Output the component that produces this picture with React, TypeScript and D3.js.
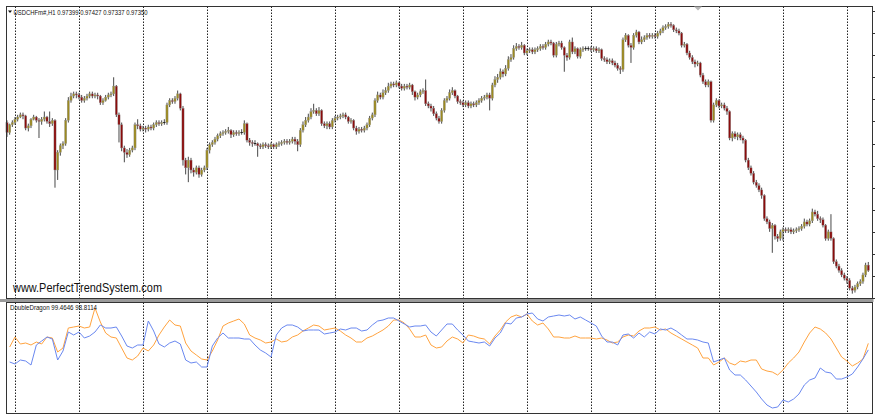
import * as d3 from "d3";

// USDCHFm#,H1 candles, prices in pips above 0.9700
const BASE = 0.97;
const PIP = 0.0001;
const SYMBOL = "USDCHFm#,H1";
const FIRST_HOUR = 21; // hour of the first bar, day separators at 00:00

const opens = [
  169, 160, 167,
  169, 172, 174, 176, 175, 164, 166, 172, 174, 171, 170, 172, 174, 170, 168, 171, 126, 142, 148, 150, 171, 189, 193, 195,
  194, 192, 189, 191, 193, 195, 193, 194, 193, 187, 189, 192, 194, 195, 202, 176, 167, 146, 142, 140, 144, 146, 167, 166,
  163, 164, 163, 165, 164, 167, 169, 168, 169, 169, 185, 189, 188, 191, 195, 182, 135, 128, 135, 126, 124, 128, 122, 126,
  128, 144, 149, 151, 154, 157, 159, 160, 161, 162, 158, 160, 159, 160, 160, 168, 153, 151, 150, 150, 148, 147, 149, 148,
  147, 149, 147, 149, 150, 151, 152, 151, 152, 154, 152, 149, 162, 167, 171, 174, 179, 180, 177, 180, 168, 166, 168, 165,
  171, 173, 174, 175, 176, 174, 170, 171, 164, 161, 163, 162, 164, 167, 173, 176, 189, 194, 192, 196, 198, 202, 204, 203,
  205, 202, 200, 202, 201, 203, 197, 192, 194, 197, 198, 186, 184, 182, 177, 173, 170, 180, 189, 191, 196, 198, 193, 188,
  187, 185, 187, 184, 186, 185, 187, 189, 191, 192, 194, 191, 203, 208, 210, 215, 213, 218, 226, 228, 236, 238, 237, 239,
  232, 234, 235, 233, 235, 236, 238, 237, 240, 242, 241, 230, 240, 241, 237, 230, 228, 242, 233, 236, 229, 235, 236, 236,
  236, 235, 236, 234, 235, 227, 226, 224, 225, 223, 221, 218, 217, 244, 248, 239, 237, 248, 251, 242, 244, 246, 248, 247,
  248, 247, 250, 252, 255, 256, 258, 257, 253, 252, 250, 239, 240, 232, 228, 224, 222, 223, 212, 206, 203, 206, 171, 185,
  189, 184, 185, 182, 179, 155, 159, 156, 158, 155, 153, 135, 128, 123, 115, 112, 108, 103, 82, 79, 73, 76, 66, 64,
  70, 72, 71, 72, 70, 71, 72, 73, 75, 79, 77, 80, 88, 86, 82, 81, 76, 64, 70, 64, 43, 39, 35, 31,
  28, 26, 19, 17, 20, 23, 25, 31, 39.9,
];

const highs = [
  171, 168, 171,
  174, 176, 178, 178, 176, 168, 173, 176, 175, 173, 174, 179, 175, 179, 173, 172, 144, 150, 152, 173, 192, 196, 197, 197,
  196, 194, 193, 195, 197, 197, 196, 196, 194, 191, 194, 196, 197, 210, 203, 178, 169, 148, 145, 146, 148, 169, 172, 168,
  166, 166, 167, 167, 169, 171, 171, 171, 172, 187, 191, 191, 193, 198, 196, 184, 137, 138, 137, 128, 130, 130, 128, 130,
  146, 151, 153, 156, 159, 161, 162, 163, 165, 163, 162, 162, 162, 163, 171, 169, 155, 153, 153, 151, 150, 151, 151, 150,
  151, 150, 151, 152, 153, 154, 154, 154, 156, 156, 154, 164, 170, 174, 177, 182, 186, 182, 183, 181, 170, 170, 170, 173,
  175, 176, 177, 178, 178, 175, 173, 172, 166, 165, 165, 166, 169, 175, 178, 191, 197, 196, 199, 201, 205, 206, 206, 207,
  206, 204, 204, 204, 205, 204, 198, 196, 199, 200, 208, 188, 186, 184, 179, 175, 182, 191, 193, 199, 201, 199, 194, 190,
  189, 189, 189, 188, 188, 189, 191, 193, 194, 196, 196, 205, 211, 213, 218, 217, 221, 229, 231, 239, 241, 240, 242, 240,
  236, 237, 237, 237, 238, 240, 240, 242, 244, 244, 242, 242, 243, 243, 238, 232, 244, 246, 238, 237, 237, 238, 238, 238,
  238, 238, 238, 237, 236, 229, 228, 227, 227, 225, 223, 220, 246, 250, 249, 241, 250, 253, 252, 247, 248, 250, 250, 250,
  250, 252, 254, 257, 258, 260, 260, 258, 255, 254, 251, 242, 241, 234, 230, 226, 225, 224, 214, 208, 208, 207, 187, 191,
  190, 187, 187, 184, 180, 161, 161, 160, 160, 157, 154, 137, 130, 125, 117, 114, 110, 104, 84, 81, 78, 77, 68, 72,
  74, 74, 74, 74, 73, 74, 75, 77, 82, 81, 82, 91, 90, 89, 84, 83, 77, 72, 86, 65, 45, 41, 37, 33,
  30, 28, 21, 22, 25, 27, 33, 42, 42.7,
];

const lows = [
  156, 158, 165,
  167, 170, 173, 172, 162, 161, 164, 171, 169, 155, 167, 170, 168, 165, 166, 110, 117, 139, 145, 148, 169, 187, 191, 191,
  190, 187, 187, 189, 191, 191, 191, 190, 185, 185, 188, 190, 192, 193, 174, 151, 143, 133, 137, 138, 142, 144, 163, 161,
  161, 160, 161, 162, 162, 165, 166, 166, 167, 167, 183, 186, 186, 189, 180, 130, 122, 115, 123, 120, 122, 119, 120, 124,
  126, 141, 147, 149, 152, 155, 157, 158, 159, 155, 156, 157, 157, 158, 158, 151, 148, 147, 148, 138, 145, 145, 146, 145,
  145, 145, 145, 147, 148, 149, 149, 149, 150, 149, 143, 147, 160, 165, 169, 172, 177, 175, 175, 166, 164, 163, 163, 163,
  169, 171, 172, 173, 172, 168, 168, 162, 158, 159, 160, 160, 162, 165, 171, 174, 187, 190, 190, 194, 196, 200, 201, 201,
  200, 198, 198, 199, 199, 194, 189, 190, 192, 195, 184, 182, 179, 175, 171, 168, 168, 178, 187, 189, 194, 191, 186, 185,
  183, 183, 182, 182, 183, 183, 185, 187, 189, 190, 180, 189, 201, 205, 208, 210, 211, 216, 224, 226, 234, 235, 235, 230,
  230, 232, 231, 231, 233, 234, 235, 235, 238, 239, 228, 228, 238, 235, 215, 225, 226, 231, 231, 227, 227, 233, 234, 234,
  233, 233, 232, 232, 225, 224, 222, 222, 221, 219, 216, 213, 215, 242, 237, 223, 235, 246, 240, 240, 242, 244, 245, 245,
  245, 245, 248, 250, 253, 254, 255, 251, 250, 248, 237, 237, 230, 226, 222, 219, 220, 210, 204, 201, 201, 169, 169, 183,
  182, 182, 180, 176, 153, 152, 154, 153, 153, 150, 133, 126, 121, 113, 110, 106, 100, 80, 77, 70, 51, 63, 61, 62,
  62, 69, 69, 68, 68, 69, 70, 71, 73, 75, 75, 78, 84, 80, 78, 74, 62, 62, 62, 41, 37, 33, 29, 26,
  23, 17, 14, 15, 18, 21, 23, 29, 33.7,
];

const closes = [
  160, 167, 169,
  172, 174, 176, 175, 164, 166, 172, 174, 171, 170, 172, 174, 170, 168, 171, 126, 142, 148, 150, 171, 189, 193, 195, 194,
  192, 189, 191, 193, 195, 193, 194, 193, 187, 189, 192, 194, 195, 202, 176, 167, 146, 142, 140, 144, 146, 167, 166, 163,
  164, 163, 165, 164, 167, 169, 168, 169, 169, 185, 189, 188, 191, 195, 182, 135, 128, 135, 126, 124, 128, 122, 126, 128,
  144, 149, 151, 154, 157, 159, 160, 161, 162, 158, 160, 159, 160, 160, 168, 153, 151, 150, 150, 148, 147, 149, 148, 147,
  149, 147, 149, 150, 151, 152, 151, 152, 154, 152, 149, 162, 167, 171, 174, 179, 180, 177, 180, 168, 166, 168, 165, 171,
  173, 174, 175, 176, 174, 170, 171, 164, 161, 163, 162, 164, 167, 173, 176, 189, 194, 192, 196, 198, 202, 204, 203, 205,
  202, 200, 202, 201, 203, 197, 192, 194, 197, 198, 186, 184, 182, 177, 173, 170, 180, 189, 191, 196, 198, 193, 188, 187,
  185, 187, 184, 186, 185, 187, 189, 191, 192, 194, 191, 203, 208, 210, 215, 213, 218, 226, 228, 236, 238, 237, 239, 232,
  234, 235, 233, 235, 236, 238, 237, 240, 242, 241, 230, 240, 241, 237, 230, 228, 242, 233, 236, 229, 235, 236, 236, 236,
  235, 236, 234, 235, 227, 226, 224, 225, 223, 221, 218, 217, 244, 248, 239, 237, 248, 251, 242, 244, 246, 248, 247, 248,
  247, 250, 252, 255, 256, 258, 257, 253, 252, 250, 239, 240, 232, 228, 224, 222, 223, 212, 206, 203, 206, 171, 185, 189,
  184, 185, 182, 179, 155, 159, 156, 158, 155, 153, 135, 128, 123, 115, 112, 108, 103, 82, 79, 73, 76, 66, 64, 70,
  72, 71, 72, 70, 71, 72, 73, 75, 79, 77, 80, 88, 86, 82, 81, 76, 64, 70, 64, 43, 39, 35, 31, 28,
  26, 19, 17, 20, 23, 25, 31, 39.9, 35.0,
];

// DoubleDragon buffers, read on every second bar (bars 1, 3, 5 ... 323)
const ddOrange = [
  99.1, 100.1, 99.4, 99.5, 99.3, 99.6, 99.4, 100.1, 100.0, 98.6,
  99.0, 101.0, 101.1, 101.2, 101.0, 101.1, 103.0, 101.6, 100.5, 100.1,
  100.0, 99.0, 98.0, 97.8, 98.2, 99.0, 98.7, 99.3, 100.3, 101.1,
  101.8, 101.3, 101.2, 99.5, 98.7, 98.3, 97.9, 97.8, 98.7, 99.8,
  101.2, 101.5, 101.7, 101.9, 101.4, 100.3, 100.0, 99.8, 99.5, 99.6,
  99.9, 99.6, 99.7, 100.1, 100.3, 100.7, 101.0, 101.3, 101.2, 100.8,
  100.9, 101.0, 100.7, 100.3, 100.0, 99.6, 99.6, 100.0, 100.2, 100.5,
  100.8, 101.2, 101.8, 101.8, 101.5, 100.9, 100.1, 100.1, 100.3, 99.3,
  99.0, 99.1, 99.7, 100.1, 99.9, 99.5, 100.3, 100.2, 100.0, 99.9,
  99.4, 100.2, 100.8, 101.6, 102.1, 102.3, 102.1, 102.4, 101.7, 101.3,
  101.5, 100.9, 100.1, 100.1, 100.0, 100.0, 100.2, 100.0, 100.0, 100.0,
  99.9, 100.0, 99.8, 99.5, 99.6, 100.1, 100.3, 100.2, 100.7, 101.0,
  101.0, 101.1, 100.8, 100.9, 100.5, 100.2, 99.9, 99.6, 99.3, 99.0,
  98.0, 98.0, 97.3, 97.6, 98.0, 97.5, 97.3, 97.7, 97.6, 97.8,
  97.8, 96.9, 96.7, 96.6, 96.3, 96.8, 97.5, 98.0, 98.6, 99.6,
  100.5, 101.1, 100.9, 100.5, 99.9, 99.0, 98.1, 97.7, 97.2, 97.5,
  97.9, 99.4646,
];

const ddBlue = [
  97.6, 97.4, 97.8, 97.7, 97.3, 99.3, 99.7, 100.1, 99.9, 97.8,
  98.7, 100.6, 100.3, 100.6, 100.0, 100.2, 100.6, 101.3, 101.0, 101.0,
  101.1, 100.2, 99.2, 99.0, 99.3, 99.3, 101.7, 100.7, 99.4, 99.1,
  99.5, 99.7, 99.4, 97.8, 97.5, 97.6, 97.1, 97.1, 99.2, 100.0,
  100.5, 100.0, 100.0, 100.0, 99.9, 99.9, 99.3, 98.8, 98.5, 98.1,
  100.3, 101.0, 101.3, 101.3, 101.1, 100.7, 100.8, 100.8, 100.8, 100.4,
  100.5, 100.6, 100.9, 100.8, 101.0, 101.0, 100.7, 100.8, 101.3, 101.7,
  101.8, 102.0, 102.0, 101.7, 101.4, 101.1, 101.2, 101.2, 101.3, 100.6,
  100.2, 100.8, 101.4, 101.4, 100.8, 100.3, 99.7, 99.6, 99.5, 99.6,
  99.2, 100.0, 100.5, 101.5, 101.4, 102.0, 102.1, 102.4, 102.5, 101.9,
  101.7, 102.1, 102.2, 102.3, 102.2, 102.3, 101.9, 102.1, 101.8, 101.5,
  101.2, 100.2, 99.6, 99.6, 99.3, 100.3, 100.4, 100.0, 100.5, 100.1,
  100.6, 100.4, 100.9, 100.8, 101.0, 100.7, 100.3, 99.9, 99.9, 99.8,
  99.6, 99.5, 97.6, 97.8, 98.0, 96.8, 96.3, 96.3, 95.8, 95.2,
  94.6, 93.9, 93.3, 93.0, 93.1, 93.8, 93.6, 93.9, 94.4, 95.3,
  95.8, 96.0, 97.0, 96.6, 96.5, 95.9, 95.9, 96.1, 96.4, 97.1,
  97.9, 98.8114,
];

const priceTicks = d3.range(10, 271, 20);
const watermark = "www.PerfectTrendSystem.com";

const BULL = "#9c8a20";
const BEAR = "#8b0c0c";

const fmtPrice = (p: number) => (BASE + p * PIP).toFixed(5);

export default function App() {
  const W = 875;
  const H = 415;
  const L = 6.5, R = 872.5;
  const mainTop = 6.5, mainBottom = 298.5;
  const subTop = 302.5, subBottom = 413.5;

  const x = d3.scaleLinear().domain([0, closes.length - 1]).range([7, 868.3]);
  const y = d3.scaleLinear().domain([30, 270]).range([276, 11.04]);
  const yi = d3.scaleLinear().domain([93, 103]).range([408, 308]);

  const bars = closes.map((c, i) => ({
    i,
    o: opens[i],
    h: Math.max(highs[i], opens[i], c),
    l: Math.min(lows[i], opens[i], c),
    c,
  }));

  const last = bars[bars.length - 1];
  const symbolTitle = `${SYMBOL}  ${[last.o, last.h, last.l, last.c].map(fmtPrice).join(" ")}`;
  const ddTitle = `DoubleDragon ${ddOrange[ddOrange.length - 1].toFixed(4)} ${ddBlue[ddBlue.length - 1].toFixed(4)}`;

  const dayStarts = bars.filter((b) => (FIRST_HOUR + b.i) % 24 === 0).map((b) => b.i);

  const line = d3
    .line<number>()
    .x((_, k) => x(2 * k + 1))
    .y((v) => yi(v));

  return (
    <svg
      width={W}
      height={H}
      style={{ position: "absolute", left: 0, top: 0, background: "#fff" }}
      fontFamily="'Liberation Sans', Arial, sans-serif"
    >
      <rect width={W} height={H} fill="#fff" />

      {/* period separators */}
      {dayStarts.map((i) => {
        const sx = Math.round(x(i)) + 0.5;
        return (
          <g key={i} stroke="#222" strokeWidth={1} strokeDasharray="1.5,1.5">
            <line x1={sx} x2={sx} y1={mainTop} y2={mainBottom} />
            <line x1={sx} x2={sx} y1={subTop} y2={subBottom} />
          </g>
        );
      })}

      {/* candles */}
      <g>
        {bars.map((b) => {
          const cx = x(b.i);
          const top = y(Math.max(b.o, b.c));
          const bot = y(Math.min(b.o, b.c));
          const up = b.c >= b.o;
          return (
            <g key={b.i}>
              <line x1={cx} x2={cx} y1={y(b.h)} y2={y(b.l)} stroke="#333" strokeWidth={0.9} />
              {bot - top < 1 ? (
                <line x1={cx - 1.2} x2={cx + 1.2} y1={top} y2={top} stroke="#222" strokeWidth={1} />
              ) : (
                <rect
                  x={cx - 1.1}
                  y={top}
                  width={2.2}
                  height={bot - top}
                  fill={up ? BULL : BEAR}
                  stroke="#999"
                  strokeWidth={0.4}
                />
              )}
            </g>
          );
        })}
      </g>

      {/* DoubleDragon */}
      <path d={line(ddOrange) ?? ""} fill="none" stroke="#ffa33f" strokeWidth={1} />
      <path d={line(ddBlue) ?? ""} fill="none" stroke="#6a88f0" strokeWidth={1} />

      {/* frames */}
      <rect x={L} y={mainTop} width={R - L} height={mainBottom - mainTop} fill="none" stroke="#333" />
      <rect x={0} y={299} width={R + 1} height={3} fill="#9a9a9a" />
      <rect x={L} y={subTop} width={R - L} height={subBottom - subTop} fill="none" stroke="#333" />

      {/* price axis ticks */}
      {priceTicks.map((p) => (
        <line key={p} x1={R} x2={R + 3} y1={Math.round(y(p)) + 0.5} y2={Math.round(y(p)) + 0.5} stroke="#333" />
      ))}

      {/* chart shift marker */}
      <path d="M694,6.5 L702,6.5 L698,10.5 Z" fill="#b8b8b8" />

      {/* labels */}
      <path d="M8,10.5 L12,10.5 L10,13 Z" fill="#111" />
      <text x={13.5} y={14.5} fontSize={7} fill="#111" textLength={134} lengthAdjust="spacingAndGlyphs">
        {symbolTitle}
      </text>
      <text x={13} y={292} fontSize={12.5} fill="#111" textLength={149} lengthAdjust="spacingAndGlyphs">
        {watermark}
      </text>
      <text x={10} y={309.5} fontSize={7} fill="#111" textLength={87} lengthAdjust="spacingAndGlyphs">
        {ddTitle}
      </text>
    </svg>
  );
}
